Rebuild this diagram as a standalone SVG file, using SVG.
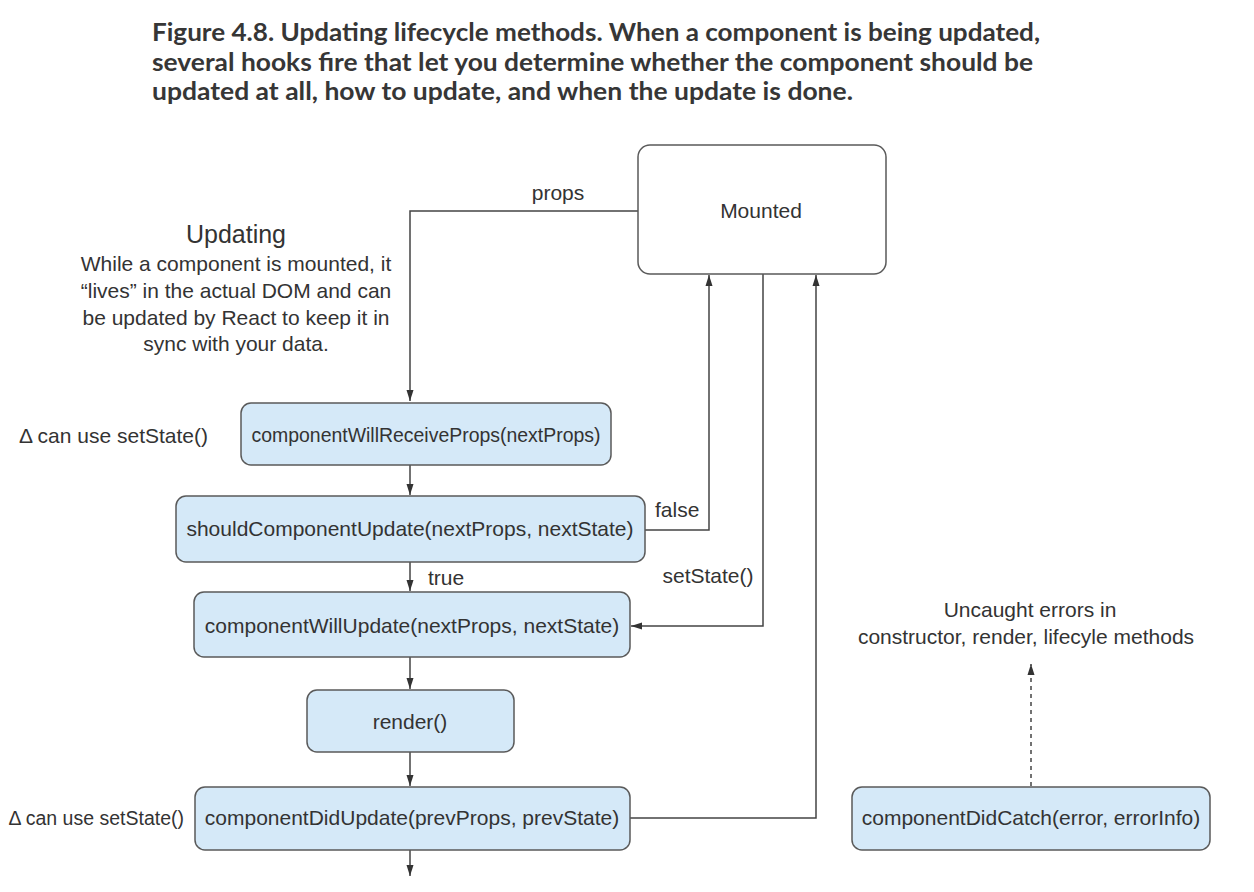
<svg xmlns="http://www.w3.org/2000/svg" width="1254" height="892" viewBox="0 0 1254 892">
<defs>
<marker id="arr" viewBox="0 0 10 10" refX="10" refY="5" markerWidth="11" markerHeight="11" markerUnits="userSpaceOnUse" orient="auto">
<path d="M0,1.8 L10,5 L0,8.2 Z" fill="#333"/>
</marker>
<style>
.title{font-family:Lato,"Noto Sans",sans-serif;font-weight:bold;font-size:24px;fill:#363636}
.t{font-family:"Liberation Sans",Arial,sans-serif;font-size:21px;fill:#333}
.box{fill:#d5e9f8;stroke:#5a5a5a;stroke-width:1.5}
.mnt{fill:#fff;stroke:#5a5a5a;stroke-width:1.5}
.c{fill:none;stroke:#444;stroke-width:1.5}
</style>
</defs>
<rect width="1254" height="892" fill="#fff"/>
<g id="title">
<text class="title" x="152" y="41" textLength="888" lengthAdjust="spacingAndGlyphs">Figure 4.8. Updating lifecycle methods. When a component is being updated,</text>
<text class="title" x="152" y="71" textLength="881" lengthAdjust="spacingAndGlyphs">several hooks fire that let you determine whether the component should be</text>
<text class="title" x="152" y="100" textLength="701" lengthAdjust="spacingAndGlyphs">updated at all, how to update, and when the update is done.</text>
</g>
<g id="connectors">
<path class="c" d="M638,211 H410 V401" marker-end="url(#arr)"/>
<path class="c" d="M410,465 V495" marker-end="url(#arr)"/>
<path class="c" d="M645,530 H709 V275" marker-end="url(#arr)"/>
<path class="c" d="M410,562 V591" marker-end="url(#arr)"/>
<path class="c" d="M763,274 V626 H631" marker-end="url(#arr)"/>
<path class="c" d="M410,657 V689" marker-end="url(#arr)"/>
<path class="c" d="M410,752 V786" marker-end="url(#arr)"/>
<path class="c" d="M630,818 H816 V275" marker-end="url(#arr)"/>
<path class="c" d="M410,850 V876" marker-end="url(#arr)"/>
<path class="c" d="M1031,786 V664" stroke-dasharray="4,4" marker-end="url(#arr)"/>
<text class="t" x="558" y="200" text-anchor="middle">props</text>
<text class="t" x="655" y="517">false</text>
<text class="t" x="428" y="585">true</text>
<text class="t" x="708" y="583" text-anchor="middle">setState()</text>
</g>
<g id="updating-note">
<text class="t" x="236" y="243" text-anchor="middle" style="font-size:25px">Updating</text>
<text class="t" x="236" y="271" text-anchor="middle">While a component is mounted, it</text>
<text class="t" x="236" y="298" text-anchor="middle">“lives” in the actual DOM and can</text>
<text class="t" x="236" y="325" text-anchor="middle">be updated by React to keep it in</text>
<text class="t" x="236" y="351" text-anchor="middle">sync with your data.</text>
</g>
<g id="mounted">
<rect class="mnt" x="638" y="145" width="248" height="129" rx="12"/>
<text class="t" x="761" y="218" text-anchor="middle">Mounted</text>
</g>
<g id="cwrp">
<rect class="box" x="241" y="403" width="370" height="62" rx="10"/>
<text class="t" x="426" y="442" text-anchor="middle" textLength="349" lengthAdjust="spacingAndGlyphs">componentWillReceiveProps(nextProps)</text>
<text class="t" x="208" y="443" text-anchor="end">Δ can use setState()</text>
</g>
<g id="scu">
<rect class="box" x="176" y="496" width="469" height="66" rx="10"/>
<text class="t" x="410" y="536" text-anchor="middle">shouldComponentUpdate(nextProps, nextState)</text>
</g>
<g id="cwu">
<rect class="box" x="194" y="592" width="436" height="65" rx="10"/>
<text class="t" x="412" y="633" text-anchor="middle">componentWillUpdate(nextProps, nextState)</text>
</g>
<g id="render">
<rect class="box" x="307" y="690" width="207" height="62" rx="10"/>
<text class="t" x="410" y="729" text-anchor="middle">render()</text>
</g>
<g id="cdu">
<rect class="box" x="195" y="787" width="435" height="63" rx="10"/>
<text class="t" x="412" y="825" text-anchor="middle">componentDidUpdate(prevProps, prevState)</text>
<text class="t" x="184" y="825" text-anchor="end" style="font-size:19.5px">Δ can use setState()</text>
</g>
<g id="cdc">
<rect class="box" x="852" y="787" width="358" height="63" rx="10"/>
<text class="t" x="1031" y="825" text-anchor="middle">componentDidCatch(error, errorInfo)</text>
</g>
<g id="errors-note">
<text class="t" x="1030" y="617" text-anchor="middle">Uncaught errors in</text>
<text class="t" x="1026" y="644" text-anchor="middle">constructor, render, lifecyle methods</text>
</g>
</svg>
